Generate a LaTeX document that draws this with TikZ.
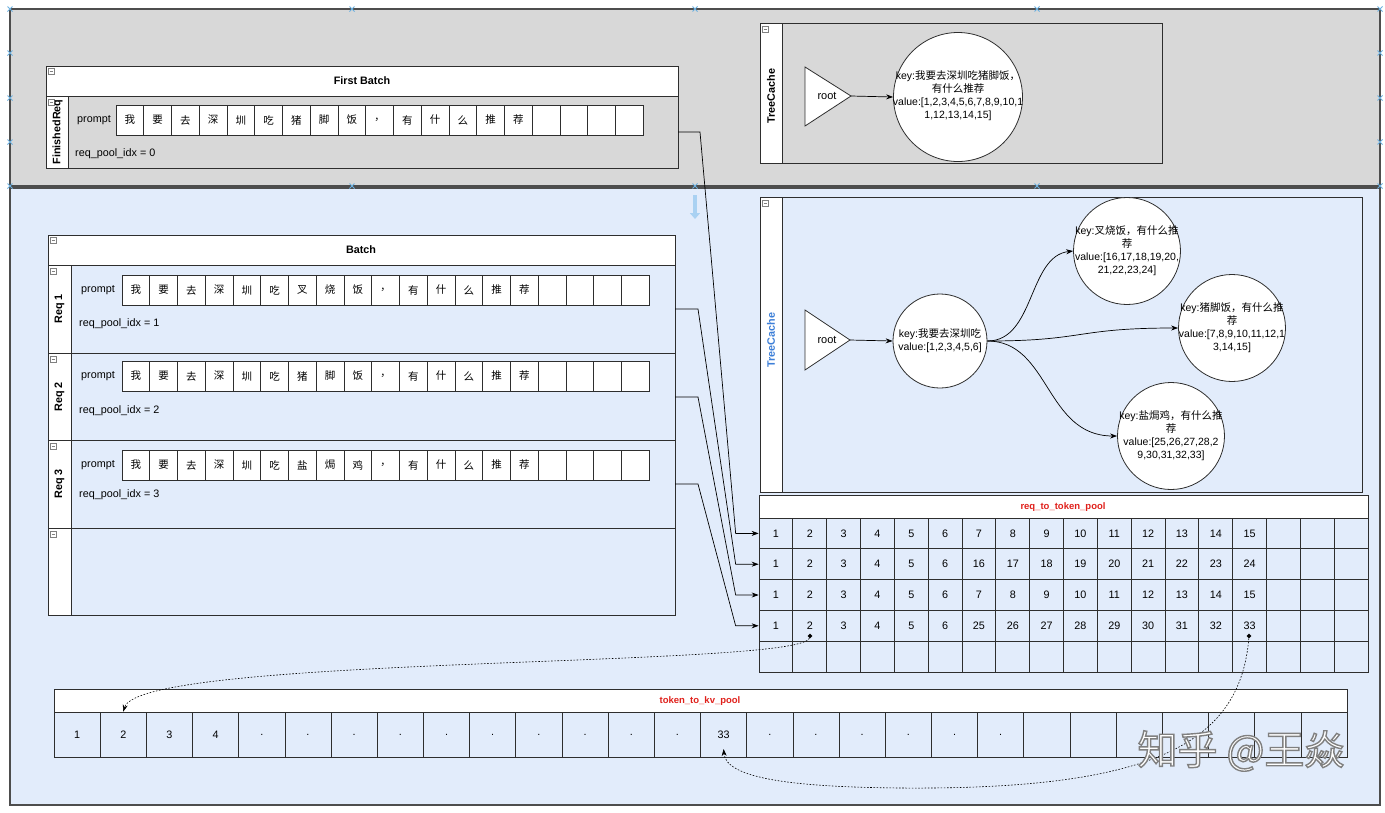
\documentclass[tikz,border=0pt]{standalone}
\usepackage{fontspec}
\setmainfont{Liberation Sans}
\newfontfamily\cjk{Noto Sans CJK SC}
\usetikzlibrary{arrows.meta,shapes.geometric}
\definecolor{bggray}{HTML}{D8D8D8}
\definecolor{bgblue}{HTML}{E2ECFB}
\definecolor{framec}{HTML}{4D4D4D}
\definecolor{linec}{HTML}{2E2E2E}
\definecolor{titlered}{HTML}{E0201B}
\definecolor{tcblue}{HTML}{3D7FD8}
\definecolor{handlec}{HTML}{6BB0E0}
\definecolor{hoverc}{HTML}{A9D1F2}
\newcommand\promptrow[4]{%
  \foreach \k in {0,...,18}
    \node[pcell] (#1-\k) at ({#2+(\k+0.5)*27.75},#3) {};
  \foreach \ch [count=\k from 0] in {#4}
    \node[chr] (#1t-\k) at (#1-\k) {\ch};
}
\newcommand\minbox[2]{%
  \draw[draw=gray,fill=white,line width=0.4pt] (#1,#2) rectangle ++(6,6);
  \draw[gray,line width=0.5pt] ({#1+1.5},{#2+3}) -- ++(3,0);
}
\newcommand\wmtext{知乎 @王焱}
\begin{document}
\begin{tikzpicture}[x=1pt,y=-1pt,
  box/.style={draw=linec,line width=0.8pt},
  pcell/.style={draw=linec,fill=white,line width=0.7pt,minimum width=27.75pt,minimum height=30pt,inner sep=0pt},
  qcell/.style={draw=linec,line width=0.7pt,minimum width=33.833pt,minimum height=30.8pt,inner sep=0pt},
  kcell/.style={draw=linec,line width=0.7pt,minimum width=46.18pt,minimum height=45pt,inner sep=0pt},
  chr/.style={font=\cjk\fontsize{10.5}{12}\selectfont,inner sep=0pt},
  lbl/.style={font=\fontsize{10.8}{13}\selectfont,inner sep=0pt},
  num/.style={font=\fontsize{10.8}{13}\selectfont,inner sep=0pt},
  ttl/.style={font=\bfseries\fontsize{10.8}{13}\selectfont,inner sep=0pt},
  rotl/.style={font=\bfseries\fontsize{10.8}{13}\selectfont,rotate=90,inner sep=0pt},
  redttl/.style={font=\bfseries\fontsize{9.5}{11}\selectfont,text=titlered,inner sep=0pt},
  ctext/.style={align=center,font=\fontsize{10.5}{13}\selectfont,inner sep=0pt},
  circ/.style={circle,draw=linec,line width=0.8pt,fill=white,inner sep=0pt},
  conn/.style={draw=black,line width=0.7pt,-{Stealth[length=7pt,width=5pt]}},
  dotconn/.style={draw=black,line width=0.6pt,dash pattern=on 1.6pt off 1.6pt,-{Stealth[length=7pt,width=5pt]}},
  dmd/.style={diamond,fill=black,inner sep=0pt,minimum size=5pt},
  hdl/.style={draw=handlec,line width=0.8pt}
]
\useasboundingbox (0,0) rectangle (1385,812);
\fill[white] (0,0) rectangle (1385,812);
% regions
\draw[fill=bggray,draw=framec,line width=1.6pt] (10,9) rectangle (1380,186);
\draw[fill=bgblue,draw=framec,line width=1.6pt] (10,188) rectangle (1380,805);
% selection handles
\foreach \p in {(10,9),(352,9),(695,9),(1037,9),(1380,9),(10,53),(10,98),(10,142),(10,186),(352,186),(695,186),(1037,186),(1380,186),(1380,53),(1380,98),(1380,142)}
  \draw[hdl] \p ++(-2.5,-2.5) -- ++(5,5) \p ++(-2.5,2.5) -- ++(5,-5);
\draw[-{Triangle[length=6pt,width=10pt]},line width=3.5pt,hoverc] (695,195) -- (695,219);

% ---------- First Batch ----------
\draw[box,fill=white] (46,66) rectangle (678,96);
\draw[box] (46,96) rectangle (678,168);
\draw[box,fill=white] (46,96) rectangle (68,168);
\minbox{48}{68}
\minbox{48}{99}
\node[ttl] (fbt) at (362,81) {First Batch};
\node[rotl] (fbl) at (57.5,132) {FinishedReq};
\node[lbl] (fbp) at (94,120) {prompt};
\node[lbl,anchor=west] (fbi) at (75,154) {req\_pool\_idx = 0};
\promptrow{fb}{116}{120}{我,要,去,深,圳,吃,猪,脚,饭,，,有,什,么,推,荐}
\coordinate (fin) at (678,132);

% ---------- Top TreeCache ----------
\draw[box] (760,23) rectangle (1162,163);
\draw[box,fill=white] (760,23) rectangle (782,163);
\minbox{762}{26}
\node[rotl] (tc1) at (771,96) {TreeCache};
\coordinate (rt1) at (851,96);
\draw[box,fill=white] (805,67) -- (rt1) -- (805,126) -- cycle;
\node[lbl,font=\fontsize{11}{12}\selectfont] (root1) at (827,96) {root};
\node[circ,minimum size=129pt] (c0) at (958,97) {};
\node[ctext] (c0t) at (958,96) {key:{\cjk 我要去深圳吃猪脚饭，}\\{\cjk 有什么推荐}\\value:[1,2,3,4,5,6,7,8,9,10,1\\1,12,13,14,15]};
\draw[conn] (rt1) -- (c0.west);

% ---------- Batch ----------
\draw[box,fill=white] (48,235) rectangle (675,265);
\draw[box] (48,265) rectangle (675,615);
\draw[box] (48,353) -- (675,353);
\draw[box] (48,440) -- (675,440);
\draw[box] (48,528) -- (675,528);
\draw[box,fill=white] (48,265) rectangle (71,615);
\draw[box] (48,353) -- (71,353) (48,440) -- (71,440) (48,528) -- (71,528);
\minbox{50}{237}
\minbox{50}{268}
\minbox{50}{356}
\minbox{50}{443}
\minbox{50}{531}
\node[ttl] (bt) at (361,250) {Batch};
\node[rotl] (r1l) at (59.5,309) {Req 1};
\node[rotl] (r2l) at (59.5,397) {Req 2};
\node[rotl] (r3l) at (59.5,484) {Req 3};
\node[lbl] (r1p) at (98,290) {prompt};
\node[lbl] (r2p) at (98,376) {prompt};
\node[lbl] (r3p) at (98,465) {prompt};
\node[lbl,anchor=west] (r1i) at (79,324) {req\_pool\_idx = 1};
\node[lbl,anchor=west] (r2i) at (79,411) {req\_pool\_idx = 2};
\node[lbl,anchor=west] (r3i) at (79,495) {req\_pool\_idx = 3};
\promptrow{ra}{122}{290}{我,要,去,深,圳,吃,叉,烧,饭,，,有,什,么,推,荐}
\promptrow{rb}{122}{376}{我,要,去,深,圳,吃,猪,脚,饭,，,有,什,么,推,荐}
\promptrow{rc}{122}{465}{我,要,去,深,圳,吃,盐,焗,鸡,，,有,什,么,推,荐}
\coordinate (s1) at (675,309);
\coordinate (s2) at (675,397);
\coordinate (s3) at (675,484);

% ---------- Bottom TreeCache ----------
\draw[box] (760,197) rectangle (1362,492);
\draw[box,fill=white] (760,197) rectangle (782,492);
\minbox{762}{200}
\node[rotl,text=tcblue] (tc2) at (771,340) {TreeCache};
\coordinate (rt2) at (850,340);
\draw[box,fill=white] (805,310) -- (rt2) -- (805,370) -- cycle;
\node[lbl,font=\fontsize{11}{12}\selectfont] (root2) at (827,340) {root};
\node[circ,minimum size=94pt] (c1) at (940,341) {};
\node[circ,minimum size=107pt] (c2) at (1127,251) {};
\node[circ,minimum size=107pt] (c3) at (1232,328) {};
\node[circ,minimum size=107pt] (c4) at (1171,436) {};
\node[ctext] (c1t) at (940,341) {key:{\cjk 我要去深圳吃}\\value:[1,2,3,4,5,6]};
\node[ctext] (c2t) at (1127,251) {key:{\cjk 叉烧饭，有什么推}\\{\cjk 荐}\\value:[16,17,18,19,20,\\21,22,23,24]};
\node[ctext] (c3t) at (1232,328) {key:{\cjk 猪脚饭，有什么推}\\{\cjk 荐}\\value:[7,8,9,10,11,12,1\\3,14,15]};
\node[ctext] (c4t) at (1171,436) {key:{\cjk 盐焗鸡，有什么推}\\{\cjk 荐}\\value:[25,26,27,28,2\\9,30,31,32,33]};
\draw[conn] (rt2) -- (c1.west);
\draw[conn] (c1.east) .. controls (1035,341) and (1028,256) .. (c2.west);
\draw[conn] (c1.east) .. controls (1085,341) and (1075,328) .. (c3.west);
\draw[conn] (c1.east) .. controls (1050,341) and (1045,436) .. (c4.west);

% ---------- req_to_token_pool ----------
\draw[box,fill=white] (759,495) rectangle (1368,518);
\node[redttl] (rtp) at (1063,507) {req\_to\_token\_pool};
\foreach \r in {0,...,4}
  \foreach \c in {0,...,17}
    \node[qcell] (q\r-\c) at ({759+(\c+0.5)*33.833},{518+(\r+0.5)*30.8}) {};
\foreach \v [count=\c from 0] in {1,2,3,4,5,6,7,8,9,10,11,12,13,14,15}
  \node[num] (qt0-\c) at (q0-\c) {\v};
\foreach \v [count=\c from 0] in {1,2,3,4,5,6,16,17,18,19,20,21,22,23,24}
  \node[num] (qt1-\c) at (q1-\c) {\v};
\foreach \v [count=\c from 0] in {1,2,3,4,5,6,7,8,9,10,11,12,13,14,15}
  \node[num] (qt2-\c) at (q2-\c) {\v};
\foreach \v [count=\c from 0] in {1,2,3,4,5,6,25,26,27,28,29,30,31,32,33}
  \node[num] (qt3-\c) at (q3-\c) {\v};

% ---------- token_to_kv_pool ----------
\draw[box,fill=white] (54,689) rectangle (1347,712);
\node[redttl] (tkp) at (700,701) {token\_to\_kv\_pool};
\foreach \c in {0,...,27}
  \node[kcell] (k\c) at ({54+(\c+0.5)*46.18},734.5) {};
\foreach \v [count=\c from 0] in {1,2,3,4,.,.,.,.,.,.,.,.,.,.,33,.,.,.,.,.,.}
  \node[num] (kt\c) at (k\c) {\v};

% ---------- lane -> pool arrows ----------
\path (q0-0.west) ++(-23,0) coordinate (a0);
\path (q1-0.west) ++(-23,0) coordinate (a1);
\path (q2-0.west) ++(-23,0) coordinate (a2);
\path (q3-0.west) ++(-23,0) coordinate (a3);
\draw[conn] (fin) -- ++(22,0) -- (a0) -- (q0-0.west);
\draw[conn] (s1) -- ++(23,0) -- (a1) -- (q1-0.west);
\draw[conn] (s2) -- ++(23,0) -- (a2) -- (q2-0.west);
\draw[conn] (s3) -- ++(23,0) -- (a3) -- (q3-0.west);

% ---------- dotted links ----------
\node[dmd] (d1) at (810,636) {};
\node[dmd] (d2) at (1249,636) {};
\coordinate (k14tip) at (723.6,749);
\draw[dotconn] (d1) .. controls (800,668) and (140,655) .. (k1.north);
\draw[dotconn] (d2) .. controls (1240,745) and (1150,790) .. (900,788) .. controls (790,787) and (726,778) .. (k14tip);

% ---------- watermark: white text, grey outline (one text) ----------
\node[font=\cjk\fontsize{40}{42}\selectfont,inner sep=0pt] (wm) at (1241,751)
  {\textcolor{white}{\special{pdf:literal direct 2 Tr 1.4 w 0.5 G}\wmtext\special{pdf:literal direct 0 Tr}}};
\end{tikzpicture}
\end{document}
